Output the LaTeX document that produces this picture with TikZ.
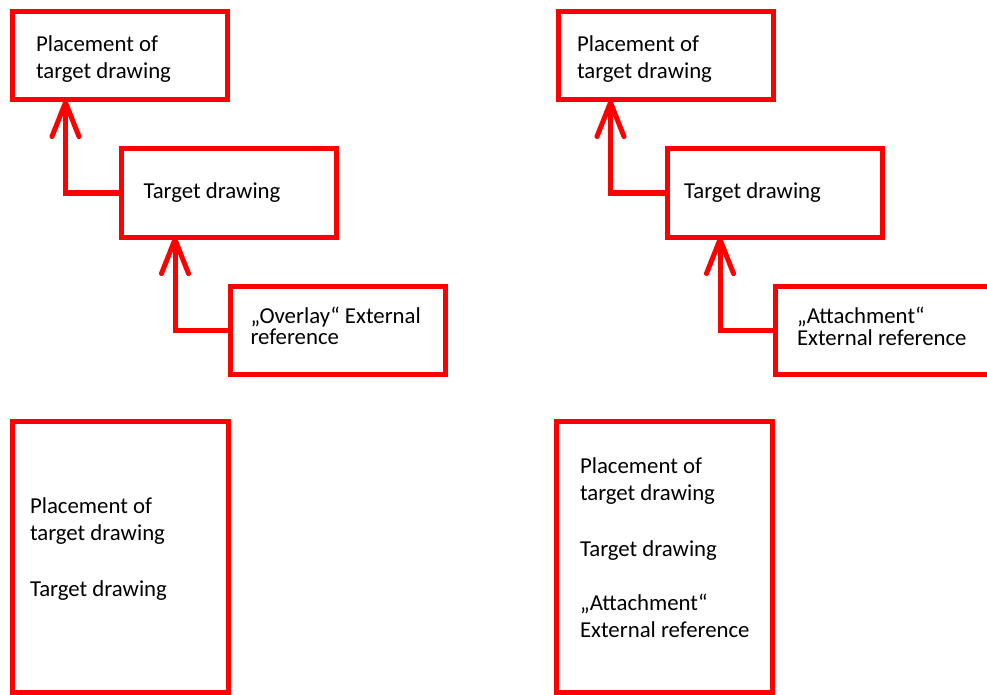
\documentclass[tikz,border=0pt]{standalone}
\usepackage{fontspec}
\setmainfont{Carlito}
\usetikzlibrary{arrows.meta}
\definecolor{boxred}{RGB}{255,0,0}
\tikzset{
  box/.style={draw=boxred, line width=5pt, minimum width=215pt, minimum height=88pt, inner sep=0pt, outer sep=0pt},
  tallbox/.style={box, minimum width=216pt, minimum height=271.5pt},
  txt/.style={anchor=base west, inner sep=0pt, outer sep=0pt, text=black},
  conn/.style={draw=boxred, line width=5pt, line join=miter,
    -{Straight Barb[length=34pt, width=27pt, line cap=round, line join=round]}},
}
\newcommand{\lines}[2]{{\fontsize{22.8}{#1}\selectfont\begin{tabular}[t]{@{}l@{}}#2\end{tabular}}}
\begin{document}
\begin{tikzpicture}[x=1pt, y=-1pt]
  \useasboundingbox (0,0) rectangle (987,695);
  \clip (0,0) rectangle (987,695);
  \fill[white] (0,0) rectangle (987,695);

  % left chain: overlay reference
  \node[box] (place1) at (119.5,56) {};
  \node[box] (tgt1) at (228.5,193) {};
  \node[box] (ovl) at (338,330) {};
  \node[txt] (place1t) at (36,52) {\lines{27}{Placement of\\target drawing}};
  \node[txt] (tgt1t) at (143.5,199) {\lines{27}{Target drawing}};
  \node[txt] (ovlt) at (250.5,323) {\lines{21}{„Overlay“ External\\reference}};
  \draw[conn] (tgt1.west) -| ([xshift=53.5pt]place1.south west);
  \draw[conn] (ovl.west) -| ([xshift=54pt]tgt1.south west);

  % right chain: attachment reference
  \node[box] (place2) at (665.5,56) {};
  \node[box] (tgt2) at (774.5,193) {};
  \node[box] (att) at (883,330) {};
  \node[txt] (place2t) at (577,52) {\lines{27}{Placement of\\target drawing}};
  \node[txt] (tgt2t) at (684,199) {\lines{27}{Target drawing}};
  \node[txt] (attt) at (797,323) {\lines{21}{„Attachment“\\External reference}};
  \draw[conn] (tgt2.west) -| ([xshift=52.5pt]place2.south west);
  \draw[conn] (att.west) -| ([xshift=53pt]tgt2.south west);

  % merged results
  \node[tallbox] (res1) at (120,556.75) {};
  \node[tallbox] (res2) at (664.75,556.75) {};
  \node[txt] (res1t) at (30,513) {\lines{27}{Placement of\\target drawing\\[29pt]Target drawing}};
  \node[txt] (res2t) at (580,473) {\lines{27}{Placement of\\target drawing\\[29pt]Target drawing\\[27pt]„Attachment“\\External reference}};
\end{tikzpicture}
\end{document}
